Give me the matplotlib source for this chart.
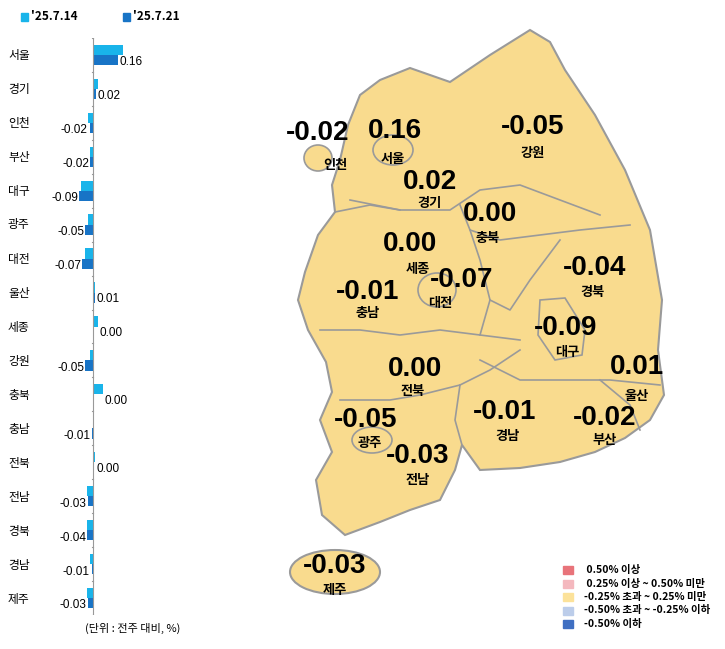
import matplotlib
matplotlib.use("Agg")
import matplotlib.pyplot as plt
from matplotlib.patches import Polygon, Ellipse, Rectangle
import numpy as np

plt.rcParams['font.family'] = ['Noto Sans CJK KR', 'DejaVu Sans']

regions = ['서울','경기','인천','부산','대구','광주','대전','울산','세종','강원','충북','충남','전북','전남','경북','경남','제주']
prev = [0.19,0.03,-0.03,-0.02,-0.08,-0.03,-0.05,0.01,0.03,-0.02,0.06,0.00,0.01,-0.04,-0.04,-0.02,-0.04]
curr = [0.16,0.02,-0.02,-0.02,-0.09,-0.05,-0.07,0.01,0.00,-0.05,0.00,-0.01,0.00,-0.03,-0.04,-0.01,-0.03]
labels = ['0.16','0.02','-0.02','-0.02','-0.09','-0.05','-0.07','0.01','0.00','-0.05','0.00','-0.01','0.00','-0.03','-0.04','-0.01','-0.03']
series_names = ["'25.7.14", "'25.7.21"]
c_prev, c_curr = '#19B4EA', '#1874C6'

map_regions = ['인천','서울','강원','경기','충북','세종','대전','경북','충남','대구','울산','전북','광주','경남','부산','전남','제주']
map_vals = ['-0.02','0.16','-0.05','0.02','0.00','0.00','-0.07','-0.04','-0.01','-0.09','0.01','0.00','-0.05','-0.01','-0.02','-0.03','-0.03']
val_pos = [(318,133),(395,131),(533,127),(430,182),(490,214),(410,244),(462,280),(595,268),(368,292),(566,328),(637,367),(415,369),(366,420),(505,412),(605,418),(418,456),(335,566)]
name_pos = [(335,165),(393,159),(533,153),(430,203),(488,238),(418,269),(440,303),(593,292),(368,313),(567,352),(637,396),(413,391),(370,443),(508,436),(605,440),(418,480),(335,590)]

legend_colors = ['#E8737A','#F4B8BE','#FCE29A','#BCCDEA','#3F6FC2']
legend_texts = [' 0.50% 이상',' 0.25% 이상 ~ 0.50% 미만','-0.25% 초과 ~ 0.25% 미만','-0.50% 초과 ~ -0.25% 이하','-0.50% 이하']

W, H = 725, 649
fig = plt.figure(figsize=(7.25, 6.49), dpi=100)
lib = ['Liberation Sans', 'DejaVu Sans']

ax = fig.add_axes([72.7/W, 1-615/H, 55/W, (615-38)/H])
n = len(regions)
y = np.arange(n)
h = 0.3
ax.barh(y-0.15, prev, height=h, color=c_prev)
ax.barh(y+0.15, curr, height=h, color=c_curr)
ax.set_xlim(-0.13, 0.22)
ax.set_ylim(n-0.5, -0.5)
ax.axis('off')
ax.axvline(0, color='#999999', lw=0.8)
for b in np.arange(-0.5, n, 1):
    ax.plot([-0.008, 0], [b, b], color='#999999', lw=0.8)
for i in range(n):
    v = curr[i]
    if v >= 0:
        edge = max(prev[i], curr[i])
        ax.text(curr[i]+0.008 if i < 2 else edge+0.012, i+0.2, labels[i], ha='left', va='center', fontsize=8.5, family=lib)
    else:
        ax.text(min(curr[i], prev[i])-0.005, i+0.22, labels[i], ha='right', va='center', fontsize=8.5, family=lib)
    fig.text(8/W, 1-(55+i*34)/H, regions[i], ha='left', va='center', fontsize=8.5)

fig.patches.append(Rectangle((21/W, 1-21/H), 7/W, 8/H, color=c_prev, transform=fig.transFigure, figure=fig))
fig.text(31/W, 1-17/H, series_names[0], fontsize=8.5, weight='bold', va='center')
fig.patches.append(Rectangle((123/W, 1-21/H), 7/W, 8/H, color=c_curr, transform=fig.transFigure, figure=fig))
fig.text(133/W, 1-17/H, series_names[1], fontsize=8.5, weight='bold', va='center')
fig.text(85/W, 1-632/H, '(단위 : 전주 대비, %)', fontsize=8)

mx = fig.add_axes([0, 0, 1, 1])
mx.set_xlim(0, W); mx.set_ylim(H, 0); mx.axis('off')
mx.patch.set_alpha(0)
fill = '#F9DB8E'; edge = '#9A9A9A'
outline = [(360,95),(380,80),(410,68),(450,82),(490,55),(530,30),(550,42),(565,70),(595,115),(625,170),(650,230),(662,300),(658,350),(664,395),(650,420),(625,438),(595,452),(560,462),(520,468),(480,470),(462,445),(455,470),(440,500),(410,510),(380,522),(345,535),(322,515),(316,480),(332,452),(320,420),(332,392),(326,362),(308,330),(298,300),(305,272),(318,235),(335,212),(332,185),(340,160),(348,125)]
mx.add_patch(Polygon(outline, closed=True, fc=fill, ec=edge, lw=1.5))
mx.add_patch(Ellipse((335,572), 90, 44, fc=fill, ec=edge, lw=1.5))
mx.add_patch(Ellipse((318,158), 28, 26, fc=fill, ec=edge, lw=1.2))
mx.add_patch(Ellipse((393,150), 40, 30, fc=fill, ec=edge, lw=1.2))
mx.add_patch(Ellipse((437,290), 38, 34, fc=fill, ec=edge, lw=1.2))
mx.add_patch(Ellipse((372,440), 40, 26, fc=fill, ec=edge, lw=1.2))
mx.add_patch(Polygon([(540,300),(565,298),(585,330),(582,355),(555,360),(538,335)], fc=fill, ec=edge, lw=1.2))
bounds = [
    [(350,200),(400,210),(450,210),(480,190),(520,185),(560,200),(600,215)],
    [(335,212),(370,205),(400,210)],
    [(460,205),(470,230),(500,240),(540,235),(580,230),(630,225)],
    [(470,230),(480,260),(490,300),(480,335)],
    [(320,330),(360,330),(400,335),(440,330),(480,335),(520,340)],
    [(490,300),(510,310),(530,280),(560,240)],
    [(340,400),(390,400),(420,395),(460,385),(490,370),(520,350)],
    [(460,385),(455,420),(462,445)],
    [(480,360),(520,380),(560,380),(610,380),(660,385)],
    [(600,380),(630,405),(640,430)],
]
for b in bounds:
    xs, ys = zip(*b)
    mx.plot(xs, ys, color=edge, lw=1.2)
for r, v, vp, npos in zip(map_regions, map_vals, val_pos, name_pos):
    mx.text(vp[0], vp[1], v, ha='center', va='center', fontsize=20, weight='bold', family=lib)
    mx.text(npos[0], npos[1], r, ha='center', va='center', fontsize=9.5, weight='bold')

for i, (c, t) in enumerate(zip(legend_colors, legend_texts)):
    yy = 570 + i*13.5
    mx.add_patch(Rectangle((563, yy-4), 10, 8, color=c))
    mx.text(584, yy, t, va='center', fontsize=7.5, weight='bold')

fig.savefig('out.png', dpi=100)
